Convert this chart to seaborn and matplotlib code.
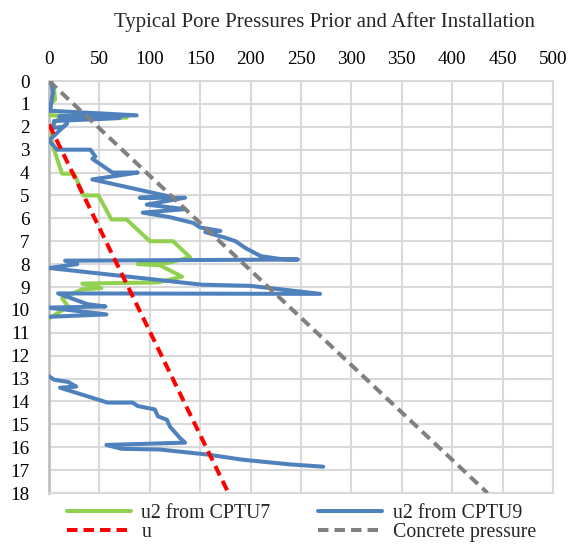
import numpy as np
import pandas as pd
import seaborn as sns
import matplotlib
matplotlib.use("Agg")
import matplotlib.pyplot as plt
from matplotlib.lines import Line2D

# ---- data (pressure kPa, depth m) ----
cptu7_u2 = [2, 5, 6, 2, 1, 77, 8, 4, 2, 5, 13, 25, 34, 49, 62, 77, 100, 123, 140, 118, 88,
            110, 132, 108, 33, 52, 33, 13, 19, 1]
cptu7_depth = [0, 0.3, 0.8, 1.0, 1.5, 1.6, 1.7, 1.9, 2.5, 3.0, 4.05, 4.05, 5.0, 5.0, 6.05, 6.05,
               7.0, 7.0, 7.7, 7.95, 8.0, 8.05, 8.55, 8.8, 8.85, 9.05, 9.1, 9.5, 9.85, 10.35]

cptu9_u2_a = [2, 4, 2, 1, 87, 10, 70, 5, 4, 14, 18, 0, 8, 41, 46, 43, 63, 88, 66, 43, 120, 90,
              135, 97, 135, 93, 120, 143, 150, 170, 155, 175, 185, 195, 210, 230, 247, 16, 28,
              0, 152, 200, 269, 9, 38, 56, 0, 57, 0]
cptu9_depth_a = [0, 0.5, 1.0, 1.3, 1.5, 1.55, 1.62, 1.75, 2.05, 2.0, 1.85, 2.6, 3.0, 3.0, 3.3,
                 3.4, 4.0, 4.0, 4.15, 4.3, 5.05, 5.1, 5.1, 5.4, 5.6, 5.75, 5.95, 6.2, 6.4, 6.55,
                 6.6, 6.85, 7.0, 7.3, 7.65, 7.78, 7.8, 7.85, 8.0, 8.17, 8.9, 8.95, 9.3, 9.28,
                 9.75, 9.85, 9.9, 10.2, 10.3]
cptu9_u2_b = [0, 5, 19, 27, 11, 58, 83, 88, 105, 108, 117, 120, 125, 130, 135, 57, 72, 110,
              157, 193, 239, 272]
cptu9_depth_b = [12.9, 13.05, 13.15, 13.35, 13.4, 14.05, 14.05, 14.2, 14.35, 14.65, 14.8, 15.1,
                 15.35, 15.6, 15.8, 15.9, 16.07, 16.1, 16.32, 16.55, 16.75, 16.85]

u_pressure = [0, 178]
u_depth = [1.9, 18]
concrete_pressure = [0, 435]
concrete_depth = [0, 18]

legend_labels = ["u2 from CPTU7", "u2 from CPTU9", "u", "Concrete pressure"]
title = "Typical Pore Pressures Prior and After Installation"

GREEN = "#92d050"
BLUE = "#4f81bd"
RED = "#ff0000"
GRAY = "#808080"

sns.set_style("white")
plt.rcParams["font.family"] = ["Liberation Serif", "DejaVu Serif"]
FS = 13.8
LFS = 14.3

fig = plt.figure(figsize=(5.68, 5.45), dpi=100)
ax = fig.add_axes([49 / 568, 1 - 493 / 545, (553 - 49) / 568, (493 - 81) / 545])

df7 = pd.DataFrame({"p": cptu7_u2, "d": cptu7_depth, "k": 0})
df9 = pd.concat([
    pd.DataFrame({"p": cptu9_u2_a, "d": cptu9_depth_a, "k": 0}),
    pd.DataFrame({"p": cptu9_u2_b, "d": cptu9_depth_b, "k": 1}),
])
dfu = pd.DataFrame({"p": u_pressure, "d": u_depth, "k": 0})
dfc = pd.DataFrame({"p": concrete_pressure, "d": concrete_depth, "k": 0})

LW = 2.9
DASH = (0, (2.6, 1.5))
sns.lineplot(data=df7, x="p", y="d", units="k", estimator=None, sort=False,
             color=GREEN, linewidth=LW, ax=ax, zorder=3)
sns.lineplot(data=df9, x="p", y="d", units="k", estimator=None, sort=False,
             color=BLUE, linewidth=LW, ax=ax, zorder=4)
sns.lineplot(data=dfu, x="p", y="d", units="k", estimator=None, sort=False,
             color=RED, linewidth=LW, ax=ax, zorder=5, linestyle=DASH)
sns.lineplot(data=dfc, x="p", y="d", units="k", estimator=None, sort=False,
             color=GRAY, linewidth=LW, ax=ax, zorder=5, linestyle=DASH)

ax.set_xlim(0, 500)
ax.set_ylim(18, 0)
ax.set_xticks(np.arange(0, 501, 50))
ax.set_yticks(np.arange(0, 19, 1))
ax.xaxis.tick_top()
ax.tick_params(axis="both", length=0, labelsize=FS, colors="black")
ax.tick_params(axis="x", pad=9)
ax.tick_params(axis="y", pad=14)
ax.set_xlabel("")
ax.set_ylabel("")
ax.grid(True, color="#d9d9d9", lw=1.5)
ax.set_axisbelow(True)
for s in ax.spines.values():
    s.set_color("#d9d9d9")
    s.set_linewidth(1.5)
ax.spines["left"].set_color("#bfbfbf")
ax.spines["left"].set_linewidth(2)

fig.text(324 / 568, 1 - 22 / 545, title, ha="center", va="center", fontsize=15)

handles = [
    Line2D([], [], color=GREEN, lw=LW),
    Line2D([], [], color=RED, lw=LW, linestyle=DASH),
    Line2D([], [], color=BLUE, lw=LW),
    Line2D([], [], color=GRAY, lw=LW, linestyle=DASH),
]
labels = [legend_labels[0], legend_labels[2], legend_labels[1], legend_labels[3]]
fig.legend(handles, labels, ncol=2, loc="upper left", bbox_to_anchor=(67 / 568, 1 - 504 / 545),
           frameon=False, fontsize=LFS, handlelength=3.2, columnspacing=2.4,
           labelspacing=0.02, handletextpad=0.55, borderpad=0, borderaxespad=0)

fig.savefig("out.png", dpi=100)
